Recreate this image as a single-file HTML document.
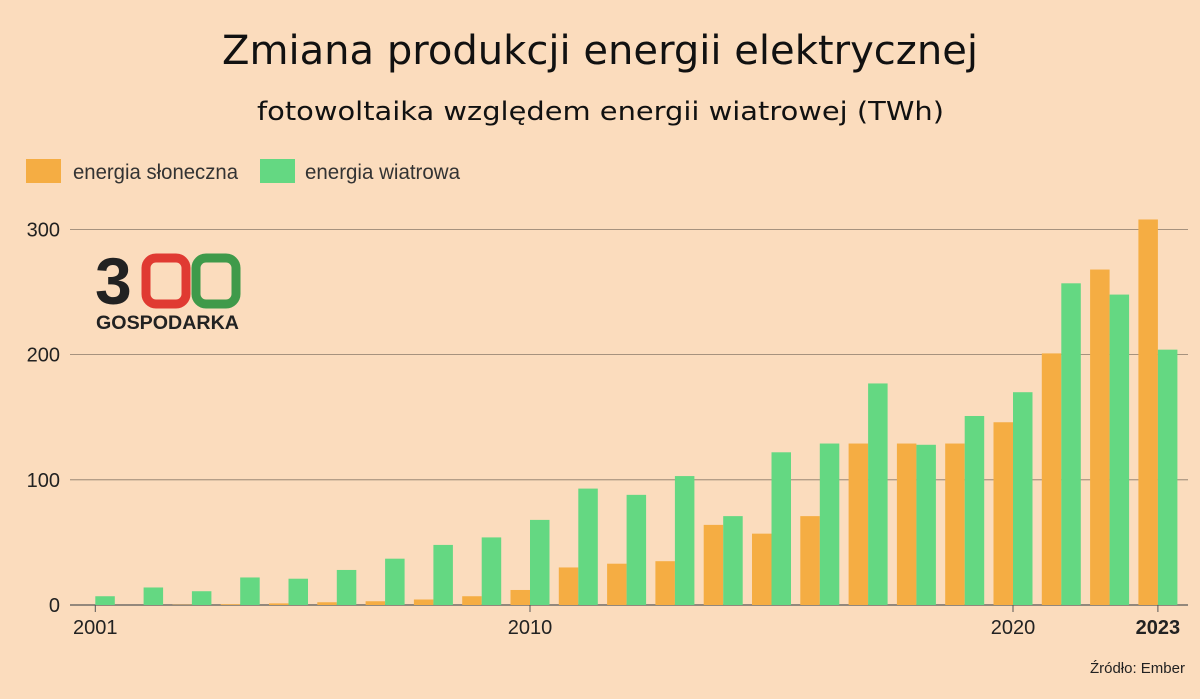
<!DOCTYPE html>
<html><head><meta charset="utf-8"><style>
html,body{margin:0;background:#fbdcbd;width:1200px;height:699px;overflow:hidden;}
svg{display:block;}
svg text{font-family:"Liberation Sans",sans-serif;}
</style></head><body>
<svg width="1200" height="699" viewBox="0 0 1200 699" id="c">
<rect width="1200" height="699" fill="#fbdcbd"/>
<text x="222" y="64" textLength="756" lengthAdjust="spacingAndGlyphs" font-size="40" fill="#111" style="font-family:'DejaVu Sans',sans-serif">Zmiana produkcji energii elektrycznej</text>
<text x="257" y="120" textLength="687" lengthAdjust="spacingAndGlyphs" font-size="26" fill="#111" style="font-family:'DejaVu Sans',sans-serif">fotowoltaika względem energii wiatrowej (TWh)</text>
<g>
<rect x="26" y="159" width="35" height="24" fill="#f5ad43"/>
<text x="73" y="179" textLength="165" lengthAdjust="spacingAndGlyphs" font-size="21" fill="#333">energia słoneczna</text>
<rect x="260" y="159" width="35" height="24" fill="#64d882"/>
<text x="305" y="179" textLength="155" lengthAdjust="spacingAndGlyphs" font-size="21" fill="#333">energia wiatrowa</text>
</g>
<g>
<text x="95" y="304" font-size="66" font-weight="bold" fill="#222">3</text>
<rect x="146" y="258" width="40" height="46" rx="10" fill="none" stroke="#e03a32" stroke-width="9"/>
<rect x="196" y="258" width="40" height="46" rx="10" fill="none" stroke="#3f9a4a" stroke-width="9"/>
<text x="96" y="329" font-size="19" font-weight="bold" fill="#222" textLength="143" lengthAdjust="spacingAndGlyphs">GOSPODARKA</text>
</g>
<g id="grid"></g><g id="bars"></g><g id="xax"></g>
<text x="1185" y="673" text-anchor="end" font-size="15" fill="#222">Źródło: Ember</text>
</svg>
<script>
const years=[2001,2002,2003,2004,2005,2006,2007,2008,2009,2010,2011,2012,2013,2014,2015,2016,2017,2018,2019,2020,2021,2022,2023];
const solar=[0,0,0.2,0.6,1.3,2.2,3,4.4,7,12,30,33,35,64,57,71,129,129,129,146,201,268,308];
const wind=[7,14,11,22,21,28,37,48,54,68,93,88,103,71,122,129,177,128,151,170,257,248,204];
const yTicks=[0,100,200,300];
const xLabels=[2001,2010,2020,2023];
const ns="http://www.w3.org/2000/svg";
const y=v=>605-v*1.2517;
const x=yr=>95.3+(yr-2001)*48.3;
const bw=19.5;
function mk(t,a,p){const e=document.createElementNS(ns,t);for(const k in a)e.setAttribute(k,a[k]);p.appendChild(e);return e;}
const g=document.getElementById('grid');
yTicks.forEach(v=>{
 const l=mk('line',{x1:70,x2:1188,y1:y(v),y2:y(v),stroke:v===0?'#555':'#8a7a6a','stroke-width':v===0?1.2:0.8},g);
 
 
 const t=mk('text',{x:60,y:y(v)+7,'text-anchor':'end','font-size':20,fill:'#222'},g);
 t.textContent=v;
 
 
});
const b=document.getElementById('bars');
years.forEach((yr,i)=>{
 const r1=mk('rect',{x:x(yr)-bw,y:y(solar[i]),width:bw,height:605-y(solar[i]),fill:'#f5ad43'},b);
 
 
 const r2=mk('rect',{x:x(yr),y:y(wind[i]),width:bw,height:605-y(wind[i]),fill:'#64d882'},b);
 
 
});
const xa=document.getElementById('xax');
xLabels.forEach(yr=>{
 const l=mk('line',{x1:x(yr),x2:x(yr),y1:605,y2:612,stroke:'#555'},xa);
 
 
 const t=mk('text',{x:x(yr),y:634,'text-anchor':'middle','font-size':20,fill:'#222','font-weight':yr===2023?'bold':'normal'},xa);
 t.textContent=yr;
 
 
});
</script>
</body></html>
